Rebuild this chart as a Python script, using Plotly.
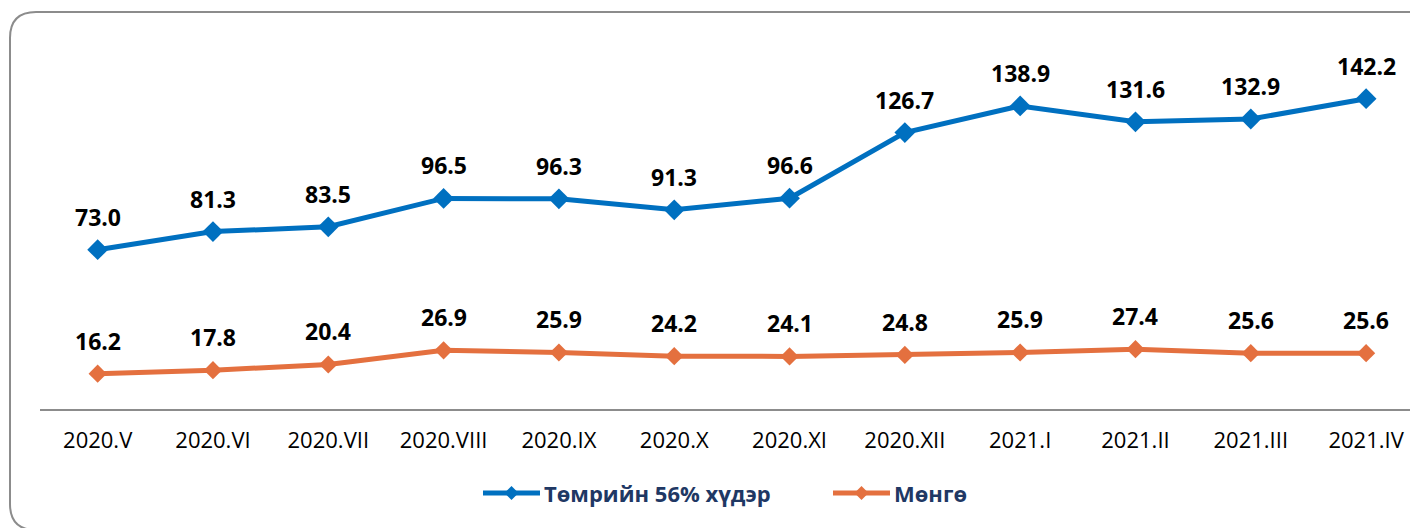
import plotly.graph_objects as go

categories = ["2020.V", "2020.VI", "2020.VII", "2020.VIII", "2020.IX", "2020.X",
              "2020.XI", "2020.XII", "2021.I", "2021.II", "2021.III", "2021.IV"]
iron_ore = [73.0, 81.3, 83.5, 96.5, 96.3, 91.3, 96.6, 126.7, 138.9, 131.6, 132.9, 142.2]
silver = [16.2, 17.8, 20.4, 26.9, 25.9, 24.2, 24.1, 24.8, 25.9, 27.4, 25.6, 25.6]
series_names = ["Төмрийн 56% хүдэр", "Мөнгө"]

BLUE = "#0070C0"
ORANGE = "#E4703F"
NAVY = "#1F3864"
W, H = 1418, 528
OFF = 8  # page body margin
# screen-pixel geometry of the plot area
SL, ST, SB, SR = 40, 20, 409, 1418
L, T, B_PX, R_PX = SL - OFF, ST - OFF, SB - OFF, SR - OFF
pw, ph = R_PX - L, B_PX - T
PX_PER_UNIT = 2.182

fig = go.Figure()
fig.add_trace(go.Scatter(x=categories, y=iron_ore, name=series_names[0], mode="lines+markers",
                         line=dict(color=BLUE, width=5),
                         marker=dict(symbol="diamond", size=16, color=BLUE), showlegend=False))
fig.add_trace(go.Scatter(x=categories, y=silver, name=series_names[1], mode="lines+markers",
                         line=dict(color=ORANGE, width=5),
                         marker=dict(symbol="diamond", size=14, color=ORANGE), showlegend=False))

for c, v in zip(categories, iron_ore):
    fig.add_annotation(x=c, y=v, text=f"<b>{v:.1f}</b>", showarrow=False, yshift=33,
                       font=dict(size=23, color="black", family="Open Sans"))
for c, v in zip(categories, silver):
    fig.add_annotation(x=c, y=v, text=f"<b>{v:.1f}</b>", showarrow=False, yshift=33,
                       font=dict(size=23, color="black", family="Open Sans"))

def px(sx):
    return (sx - OFF - L) / pw

def py(sy):
    return (B_PX - (sy - OFF)) / ph

def P(sx, sy):
    return f"{px(sx):.5f},{py(sy):.5f}"

# rounded frame (screen coords)
x0, y0, x1, y1, r = 10, 12, 1450, 530, 26
path = (f"M {P(x0, y1 - r)} L {P(x0, y0 + r)} Q {P(x0, y0)} {P(x0 + r, y0)} "
        f"L {P(x1, y0)} M {P(x0, y1 - r)} Q {P(x0, y1)} {P(x0 + r, y1)} L {P(x1, y1)}")
fig.add_shape(type="path", path=path, xref="paper", yref="paper",
              line=dict(color="#8C8C8C", width=2))

# custom legend (screen coords)
LEG_Y = 493
legend_items = [(series_names[0], BLUE, 483, 540), (series_names[1], ORANGE, 833, 890)]
for name, col, lx0, lx1 in legend_items:
    fig.add_shape(type="line", xref="paper", yref="paper", x0=px(lx0), x1=px(lx1),
                  y0=py(LEG_Y), y1=py(LEG_Y), line=dict(color=col, width=5))
    cx = (lx0 + lx1) / 2
    d = 7
    dpath = (f"M {P(cx, LEG_Y - d)} L {P(cx + d, LEG_Y)} L {P(cx, LEG_Y + d)} "
             f"L {P(cx - d, LEG_Y)} Z")
    fig.add_shape(type="path", path=dpath, xref="paper", yref="paper",
                  fillcolor=col, line=dict(color=col, width=0))
    fig.add_annotation(x=px(lx1 + 2), y=py(LEG_Y), xref="paper", yref="paper",
                       xanchor="left", yanchor="middle", showarrow=False,
                       text=f"<b>{name}</b>",
                       font=dict(size=22, color=NAVY, family="Open Sans"))

fig.update_layout(
    width=W, height=H,
    margin=dict(l=L, r=W - R_PX, t=T, b=H - B_PX),
    paper_bgcolor="white", plot_bgcolor="white",
    showlegend=False,
    font=dict(family="Open Sans"),
)
fig.update_xaxes(range=[-0.5, 11.45], showgrid=False, showline=True, linecolor="#8C8C8C",
                 linewidth=2, ticks="", tickfont=dict(size=22, color="black", family="Open Sans"),
                 ticklabelstandoff=11)
fig.update_yaxes(range=[0, ph / PX_PER_UNIT], visible=False, showgrid=False, zeroline=False)

fig.write_html("out.html")
